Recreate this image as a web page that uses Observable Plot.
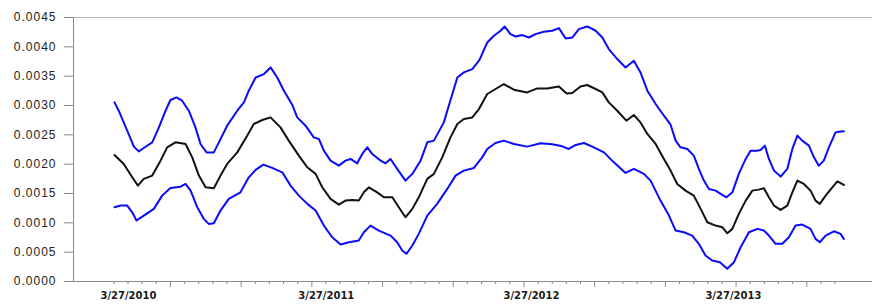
<!DOCTYPE html>
<html>
<head>
<meta charset="utf-8">
<script src="https://cdn.jsdelivr.net/npm/d3@7"></script>
<script src="https://cdn.jsdelivr.net/npm/@observablehq/plot@0.6"></script>
<style>
  html, body { margin: 0; padding: 0; background: #fff; }
  g[aria-label="y-axis tick label"] text { letter-spacing: 1px; }
</style>
</head>
<body>
<div id="chart"></div>
<script>
// x positions in decimal years
const upperX = [2010.171,2010.192,2010.234,2010.267,2010.291,2010.316,2010.358,2010.391,2010.424,2010.448,2010.478,2010.506,2010.539,2010.572,2010.597,2010.627,2010.663,2010.688,2010.729,2010.779,2010.812,2010.836,2010.870,2010.911,2010.944,2010.977,2011.010,2011.051,2011.076,2011.117,2011.158,2011.183,2011.208,2011.241,2011.282,2011.315,2011.340,2011.373,2011.398,2011.423,2011.447,2011.489,2011.513,2011.538,2011.571,2011.612,2011.646,2011.687,2011.720,2011.753,2011.802,2011.844,2011.869,2011.901,2011.943,2011.976,2011.984,2012.017,2012.050,2012.083,2012.103,2012.132,2012.157,2012.190,2012.223,2012.256,2012.297,2012.339,2012.372,2012.405,2012.438,2012.471,2012.512,2012.554,2012.587,2012.619,2012.661,2012.702,2012.743,2012.776,2012.810,2012.851,2012.892,2012.925,2012.950,2012.974,2013.008,2013.040,2013.065,2013.090,2013.115,2013.148,2013.173,2013.202,2013.231,2013.263,2013.297,2013.321,2013.351,2013.371,2013.392,2013.412,2013.437,2013.470,2013.503,2013.528,2013.553,2013.577,2013.610,2013.635,2013.659,2013.684,2013.709,2013.742,2013.759,2013.783];
const upperY = [0.003053,0.002911,0.002571,0.002299,0.002218,0.002276,0.002372,0.002627,0.002911,0.003094,0.003138,0.003082,0.002911,0.002627,0.002344,0.002201,0.002201,0.002372,0.002656,0.002911,0.003053,0.003252,0.003478,0.003536,0.003649,0.003478,0.003252,0.003014,0.002797,0.002656,0.002457,0.002430,0.002230,0.002060,0.001975,0.002060,0.002089,0.002014,0.002174,0.002287,0.002174,0.002060,0.002014,0.002089,0.001919,0.001720,0.001834,0.002060,0.002372,0.002401,0.002712,0.003196,0.003478,0.003564,0.003621,0.003763,0.003819,0.004074,0.004188,0.004274,0.004347,0.004217,0.004176,0.004200,0.004159,0.004217,0.004257,0.004274,0.004319,0.004142,0.004159,0.004302,0.004347,0.004274,0.004159,0.003962,0.003792,0.003649,0.003763,0.003564,0.003252,0.003026,0.002826,0.002673,0.002401,0.002287,0.002259,0.002145,0.001919,0.001720,0.001578,0.001549,0.001493,0.001435,0.001520,0.001834,0.002089,0.002230,0.002230,0.002242,0.002316,0.002089,0.001890,0.001788,0.001919,0.002259,0.002486,0.002401,0.002316,0.002116,0.001975,0.002060,0.002287,0.002542,0.002554,0.002559];

const middleX = [2010.171,2010.217,2010.259,2010.287,2010.316,2010.358,2010.399,2010.432,2010.473,2010.523,2010.556,2010.589,2010.622,2010.663,2010.696,2010.729,2010.779,2010.828,2010.861,2010.903,2010.944,2010.993,2011.034,2011.084,2011.126,2011.167,2011.200,2011.241,2011.282,2011.315,2011.348,2011.381,2011.406,2011.431,2011.472,2011.505,2011.547,2011.579,2011.612,2011.646,2011.678,2011.720,2011.753,2011.794,2011.835,2011.869,2011.901,2011.943,2011.976,2012.017,2012.058,2012.099,2012.149,2012.215,2012.265,2012.314,2012.372,2012.410,2012.438,2012.479,2012.512,2012.554,2012.587,2012.619,2012.661,2012.706,2012.743,2012.776,2012.810,2012.851,2012.892,2012.925,2012.958,2012.999,2013.040,2013.074,2013.107,2013.148,2013.181,2013.206,2013.231,2013.263,2013.297,2013.330,2013.362,2013.387,2013.412,2013.437,2013.470,2013.503,2013.528,2013.553,2013.585,2013.618,2013.643,2013.664,2013.693,2013.726,2013.751,2013.783];
const middleY = [0.002157,0.002004,0.001776,0.001634,0.001749,0.001805,0.002060,0.002287,0.002372,0.002344,0.002116,0.001805,0.001606,0.001589,0.001805,0.002004,0.002201,0.002486,0.002685,0.002753,0.002797,0.002627,0.002401,0.002145,0.001946,0.001834,0.001606,0.001408,0.001311,0.001379,0.001391,0.001379,0.001520,0.001606,0.001520,0.001435,0.001435,0.001265,0.001095,0.001238,0.001435,0.001749,0.001834,0.002116,0.002457,0.002685,0.002770,0.002797,0.002940,0.003196,0.003281,0.003366,0.003269,0.003223,0.003291,0.003291,0.003325,0.003206,0.003213,0.003325,0.003349,0.003281,0.003223,0.003053,0.002911,0.002741,0.002838,0.002712,0.002515,0.002344,0.002089,0.001890,0.001663,0.001549,0.001464,0.001238,0.001010,0.000953,0.000925,0.000822,0.000897,0.001153,0.001379,0.001549,0.001566,0.001589,0.001435,0.001294,0.001221,0.001294,0.001520,0.001720,0.001663,0.001549,0.001379,0.001323,0.001464,0.001606,0.001708,0.001646];

const lowerX = [2010.171,2010.201,2010.234,2010.259,2010.280,2010.316,2010.366,2010.407,2010.448,2010.498,2010.523,2010.548,2010.581,2010.613,2010.638,2010.663,2010.696,2010.737,2010.795,2010.836,2010.870,2010.908,2010.952,2011.002,2011.043,2011.084,2011.126,2011.167,2011.208,2011.249,2011.291,2011.332,2011.381,2011.406,2011.439,2011.480,2011.538,2011.571,2011.596,2011.617,2011.646,2011.678,2011.720,2011.769,2011.819,2011.860,2011.901,2011.951,2011.992,2012.017,2012.058,2012.099,2012.149,2012.215,2012.281,2012.339,2012.389,2012.421,2012.455,2012.496,2012.545,2012.595,2012.644,2012.702,2012.743,2012.793,2012.826,2012.875,2012.917,2012.950,2012.991,2013.032,2013.065,2013.098,2013.131,2013.169,2013.206,2013.239,2013.272,2013.313,2013.355,2013.387,2013.412,2013.445,2013.478,2013.511,2013.544,2013.577,2013.618,2013.643,2013.664,2013.693,2013.734,2013.767,2013.783];
const lowerY = [0.001265,0.001294,0.001294,0.001180,0.001039,0.001124,0.001238,0.001464,0.001595,0.001617,0.001663,0.001549,0.001265,0.001068,0.000982,0.000993,0.001209,0.001408,0.001520,0.001776,0.001902,0.001992,0.001936,0.001861,0.001634,0.001464,0.001323,0.001209,0.000953,0.000754,0.000630,0.000669,0.000698,0.000839,0.000953,0.000868,0.000783,0.000669,0.000528,0.000472,0.000613,0.000812,0.001124,0.001323,0.001578,0.001805,0.001890,0.001936,0.002116,0.002259,0.002361,0.002401,0.002344,0.002299,0.002355,0.002338,0.002304,0.002259,0.002327,0.002361,0.002287,0.002201,0.002031,0.001851,0.001919,0.001834,0.001720,0.001379,0.001124,0.000868,0.000839,0.000783,0.000642,0.000443,0.000358,0.000329,0.000216,0.000329,0.000584,0.000839,0.000897,0.000868,0.000783,0.000642,0.000642,0.000754,0.000953,0.000970,0.000897,0.000727,0.000669,0.000783,0.000856,0.000812,0.000727];

// axis setup
const yTicks = [0, 0.0005, 0.001, 0.0015, 0.002, 0.0025, 0.003, 0.0035, 0.004, 0.0045];
const xLabelPos = [2010.240, 2011.220, 2012.236, 2013.236];
const xLabels = ["3/27/2010", "3/27/2011", "3/27/2012", "3/27/2013"];
const xDomain = [2009.968, 2013.925];
const tickStart = 2010.168, tickStep = 0.07003, tickCount = 52;

const allTicks = d3.range(tickCount).map(i => tickStart + i * tickStep);
const minorTicks = allTicks.filter((d, i) => i % 5 !== 4);
const majorTicks = allTicks.filter((d, i) => i % 5 === 4);

const toRows = (xs, ys) => xs.map((x, i) => ({x, y: ys[i]}));
const upper = toRows(upperX, upperY);
const middle = toRows(middleX, middleY);
const lower = toRows(lowerX, lowerY);

const chart = Plot.plot({
  width: 872,
  height: 305,
  marginLeft: 73,
  marginRight: 0,
  marginTop: 17,
  marginBottom: 24,
  style: {fontFamily: "'Liberation Sans', Arial, sans-serif", fontSize: "12px", background: "#fff", color: "#222"},
  x: {type: "linear", domain: xDomain, axis: null, label: null},
  y: {domain: [0, 0.0045], axis: null, label: null},
  marks: [
    Plot.ruleY([yTicks[yTicks.length - 1]], {stroke: "#b8b8b8", strokeWidth: 1}),
    Plot.ruleX([xDomain[0]], {stroke: "#8a8a8a", strokeWidth: 1}),
    Plot.ruleY([0], {stroke: "#8a8a8a", strokeWidth: 1}),
    Plot.axisY({ticks: yTicks, label: null, tickFormat: d => d.toFixed(4), tickSize: 9, tickPadding: 8, stroke: "#8a8a8a", fill: "#222", fontSize: 12}),
    Plot.axisX({ticks: minorTicks, label: null, tickSize: 3, tickFormat: () => "", stroke: "#8a8a8a"}),
    Plot.axisX({ticks: majorTicks, label: null, tickSize: 6, tickFormat: () => "", stroke: "#8a8a8a"}),
    Plot.axisX({ticks: xLabelPos, label: null, tickSize: 0, tickPadding: 10, tickFormat: d => xLabels[xLabelPos.indexOf(d)], fontFamily: "'DejaVu Sans', Verdana, sans-serif", fontWeight: "bold", fontSize: 10, fill: "#1a1a1a"}),
    Plot.line(upper, {x: "x", y: "y", stroke: "#0a0aff", strokeWidth: 2}),
    Plot.line(lower, {x: "x", y: "y", stroke: "#0a0aff", strokeWidth: 2}),
    Plot.line(middle, {x: "x", y: "y", stroke: "#111", strokeWidth: 2})
  ]
});
document.getElementById("chart").appendChild(chart);
</script>
</body>
</html>
